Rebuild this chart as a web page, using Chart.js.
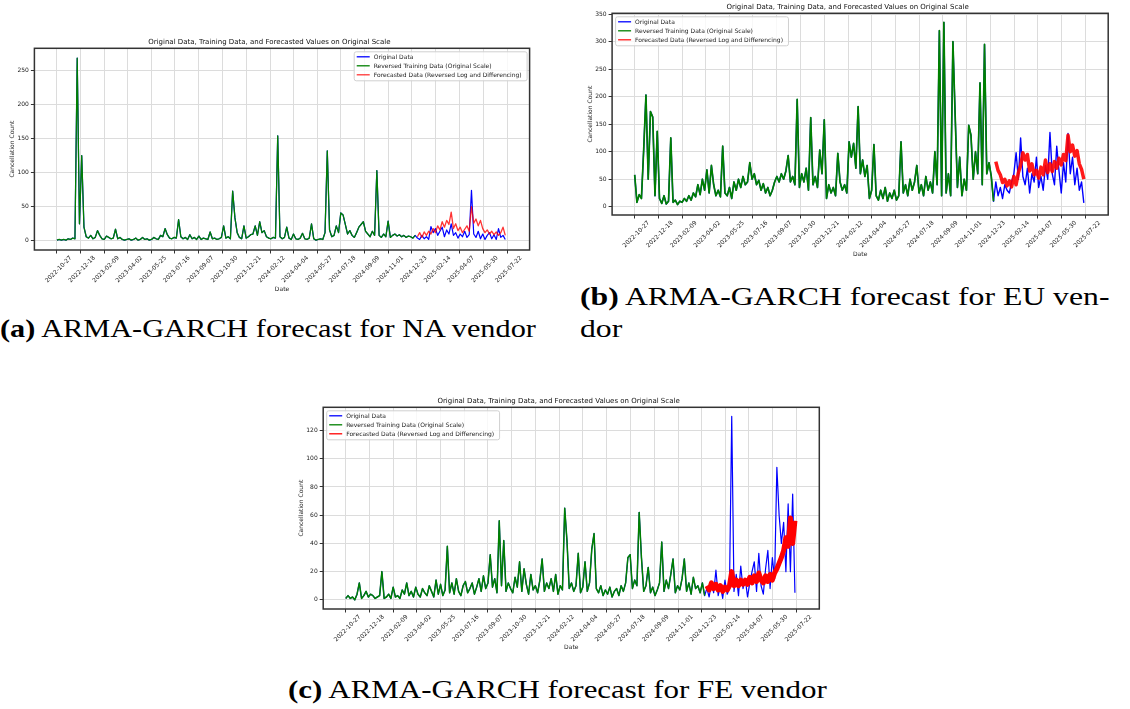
<!DOCTYPE html>
<html>
<head>
<meta charset="utf-8">
<script src="https://cdn.jsdelivr.net/npm/chart.js@4.4.1/dist/chart.umd.min.js"></script>
<style>
  body { margin: 0; width: 1130px; height: 709px; background: #fff; position: relative; overflow: hidden; }
  canvas { position: absolute; }
  .cap { position: absolute; font-family: "Liberation Serif", serif; font-size: 26px; white-space: nowrap; color: #000; line-height: 32px; transform-origin: 0 50%; }
  .cap b { font-weight: bold; }
</style>
</head>
<body>
<canvas id="chartNA" width="545" height="275" style="left:0px;top:30px"></canvas>
<canvas id="chartEU" width="560" height="270" style="left:570px;top:0px"></canvas>
<canvas id="chartFE" width="560" height="270" style="left:280px;top:390px"></canvas>

<div class="cap" style="left:0px;top:313px;transform:scaleX(1.165)"><b>(a)</b> ARMA-GARCH forecast for NA vendor</div>
<div class="cap" style="left:580px;top:281px;transform:scaleX(1.22)"><b>(b)</b> ARMA-GARCH forecast for EU ven-</div>
<div class="cap" style="left:580px;top:313px;transform:scaleX(1.22)">dor</div>
<div class="cap" style="left:288px;top:674px;transform:scaleX(1.19)"><b>(c)</b> ARMA-GARCH forecast for FE vendor</div>

<script>
// dates on the x axis (matplotlib put 20 evenly spaced ticks)
var tickLabels = ['2022-10-27', '2022-12-18', '2023-02-09', '2023-04-02', '2023-05-25',
  '2023-07-16', '2023-09-07', '2023-10-30', '2023-12-21', '2024-02-12', '2024-04-04',
  '2024-05-27', '2024-07-18', '2024-09-09', '2024-11-01', '2024-12-23', '2025-02-14',
  '2025-04-07', '2025-05-30', '2025-07-22'];
var startDate = '2022-10-27';
var stepDays = 5; // values every 5 days

// NA vendor
var naTrain = [
  1, 2, 1, 2, 1, 3, 2, 4, 3, 268, 25, 125, 20, 6, 4, 8, 3, 5, 15, 8,
  3, 2, 7, 5, 3, 4, 17, 3, 5, 2, 1, 2, 3, 1, 2, 4, 1, 2, 5, 2,
  3, 1, 2, 5, 3, 2, 8, 6, 18, 9, 4, 3, 5, 4, 31, 6, 3, 5, 2, 9,
  3, 5, 2, 7, 2, 4, 3, 2, 13, 3, 4, 2, 3, 5, 22, 4, 6, 3, 73, 34,
  12, 5, 3, 22, 4, 6, 9, 10, 22, 8, 28, 12, 15, 6, 4, 3, 5, 4, 154, 6,
  3, 5, 20, 4, 2, 10, 3, 2, 4, 11, 3, 2, 4, 25, 3, 1, 2, 3, 2, 12,
  132, 16, 6, 8, 22, 12, 41, 38, 24, 10, 15, 8, 5, 12, 20, 24, 28, 14, 10, 6,
  14, 8, 103, 8, 5, 10, 6, 29, 5, 8, 10, 7, 9, 6, 8, 5, 7, 6, 4, 8
];
var naTest = [
  4, 2, 8, 3, 6, 2, 21, 12, 18, 8, 14, 20, 6, 16, 10, 25, 8, 12, 4, 10,
  6, 14, 5, 9, 74, 10, 5, 14, 3, 10, 2, 8, 12, 3, 9, 2, 18, 5, 8, 2
];
var naForecast = [
  6, 12, 5, 13, 8, 14, 10, 18, 12, 22, 16, 28, 20, 30, 24, 42, 18, 25, 15, 20,
  12, 17, 22, 14, 50, 26, 32, 22, 30, 18, 12, 16, 10, 14, 9, 13, 8, 12, 20, 8
];

// EU vendor
var euTrain = [
  58, 8, 22, 15, 104, 203, 50, 173, 163, 20, 137, 15, 6, 20, 5, 10, 125, 8, 12, 4,
  10, 8, 15, 10, 20, 12, 25, 18, 40, 22, 50, 30, 67, 25, 75, 40, 20, 30, 18, 110,
  25, 20, 35, 15, 45, 30, 50, 35, 55, 40, 45, 80, 50, 60, 40, 48, 30, 42, 25, 35,
  20, 30, 45, 55, 45, 60, 50, 65, 93, 45, 55, 40, 195, 35, 60, 45, 70, 30, 162, 40,
  55, 35, 103, 60, 158, 15, 40, 25, 35, 20, 97, 45, 30, 40, 25, 118, 90, 115, 70, 182,
  60, 85, 55, 75, 15, 30, 113, 20, 12, 30, 15, 35, 10, 25, 15, 30, 12, 20, 118, 25,
  40, 20, 50, 30, 45, 75, 25, 40, 20, 55, 30, 45, 25, 100, 40, 320, 20, 335, 25, 60,
  20, 300, 165, 35, 90, 20, 50, 30, 148, 130, 50, 100, 60, 225, 40, 295, 60, 80, 55, 10
];
var euTest = [
  45, 20, 35, 15, 40, 30, 25, 45, 60, 98, 50, 125, 55, 40, 70, 25, 60, 45, 90, 35,
  55, 30, 75, 50, 135, 60, 40, 110, 65, 25, 80, 45, 133, 60, 90, 40, 70, 30, 45, 7
];
var euForecast = [
  82, 66, 58, 44, 50, 38, 47, 36, 55, 40, 62, 75, 98, 85, 95, 65, 78, 58, 66, 52,
  72, 58, 85, 62, 78, 64, 82, 70, 88, 76, 95, 84, 130, 100, 112, 92, 102, 78, 68, 50
];

// FE vendor
var feTrain = [
  1, 3, 1, 2, 0, 4, 12, 1, 3, 6, 2, 4, 3, 1, 2, 3, 20, 1, 2, 4,
  1, 9, 2, 3, 1, 7, 4, 12, 3, 6, 2, 9, 4, 2, 8, 5, 3, 10, 6, 2,
  14, 4, 11, 3, 7, 38, 5, 12, 4, 15, 6, 3, 10, 13, 5, 8, 12, 4, 9, 15,
  6, 17, 8, 12, 32, 9, 15, 5, 56, 10, 42, 6, 12, 8, 5, 16, 9, 27, 6, 22,
  11, 4, 18, 7, 10, 5, 14, 29, 6, 12, 8, 15, 6, 18, 4, 10, 7, 65, 42, 8,
  12, 6, 10, 33, 5, 9, 27, 6, 12, 36, 47, 8, 5, 10, 3, 7, 4, 9, 2, 6,
  8, 3, 10, 6, 12, 30, 32, 8, 14, 10, 62, 30, 6, 10, 23, 5, 9, 3, 7, 12,
  41, 6, 14, 8, 18, 29, 5, 10, 7, 15, 29, 6, 12, 4, 16, 8, 10, 5, 12, 3
];
var feTest = [
  8, 2, 12, 5, 21, 3, 10, 1, 14, 4, 8, 130, 6, 18, 3, 24, 8, 15, 2, 12,
  20, 27, 6, 33, 10, 4, 22, 35, 8, 30, 15, 94, 60, 40, 55, 20, 68, 20, 75, 5
];
var feForecast = [
  10, 7, 12, 8, 11, 7, 10, 6, 9, 7, 10, 20, 10, 14, 10, 14, 11, 14, 11, 16,
  12, 17, 13, 19, 14, 12, 17, 13, 18, 14, 19, 22, 26, 30, 35, 44, 38, 58, 40, 56
];

var FONT = '"DejaVu Sans", sans-serif';
var dayOf = function (s) { return Math.round((Date.parse(s) - Date.parse(startDate)) / 86400000); };
var tickDays = tickLabels.map(dayOf);

function points(values, offset) {
  return values.map(function (v, k) { return { x: (offset + k) * stepDays, y: v }; });
}

// matplotlib style box round the axes + legend inside it
var framePlugin = {
  id: 'frame',
  afterDraw: function (chart, args, opts) {
    var ctx = chart.ctx, a = chart.chartArea;
    ctx.save();
    ctx.strokeStyle = '#333';
    ctx.lineWidth = 1.5;
    ctx.strokeRect(a.left, a.top, a.right - a.left, a.bottom - a.top);

    ctx.font = '6px ' + FONT;
    var sets = chart.data.datasets;
    var tw = 0;
    sets.forEach(function (d) { tw = Math.max(tw, ctx.measureText(d.label).width); });
    var w = 21 + tw + 4, h = 29;
    var x = opts.corner === 'right' ? a.right - 3 - w : a.left + 3;
    var y = a.top + 3;
    ctx.beginPath();
    ctx.roundRect(x + 0.5, y + 0.5, w, h, 2);
    ctx.fillStyle = 'rgba(255,255,255,0.8)';
    ctx.fill();
    ctx.strokeStyle = '#d0d0d0';
    ctx.lineWidth = 1;
    ctx.stroke();
    sets.forEach(function (d, k) {
      var ry = y + 5.5 + k * 9;
      ctx.beginPath();
      ctx.moveTo(x + 3, ry);
      ctx.lineTo(x + 16, ry);
      ctx.strokeStyle = d.borderColor;
      ctx.lineWidth = 1.3;
      ctx.stroke();
      ctx.fillStyle = '#222';
      ctx.textBaseline = 'middle';
      ctx.fillText(d.label, x + 20, ry + 0.5);
    });
    ctx.restore();
  }
};

function makeChart(id, g) {
  return new Chart(document.getElementById(id), {
    type: 'line',
    data: {
      datasets: [
        { label: 'Original Data', data: points(g.train.concat(g.test), 0),
          borderColor: '#0000ff', borderWidth: g.wBlue, order: 3 },
        { label: 'Reversed Training Data (Original Scale)', data: points(g.train, 0),
          borderColor: '#008000', borderWidth: g.wGreen, order: 2 },
        { label: 'Forecasted Data (Reversed Log and Differencing)', data: points(g.forecast, g.train.length),
          borderColor: g.red, borderWidth: g.wRed, order: 1 }
      ]
    },
    options: {
      responsive: false,
      animation: false,
      devicePixelRatio: 1,
      elements: {
        point: { radius: 0 },
        line: { tension: 0, borderJoinStyle: 'round', fill: false }
      },
      layout: { padding: { left: g.pl, top: g.pt, right: g.pr, bottom: g.pb } },
      scales: {
        x: {
          type: 'linear', min: -50, max: 1049,
          afterBuildTicks: function (s) { s.ticks = tickDays.map(function (v) { return { value: v }; }); },
          afterFit: function (s) { s.height = g.xH; },
          ticks: {
            autoSkip: false, maxRotation: 45, minRotation: 45, labelOffset: 14, padding: 1,
            font: { family: FONT, size: 6 }, color: '#222',
            callback: function (v, i) { return tickLabels[i]; }
          },
          grid: { color: '#dcdcdc', lineWidth: 1, tickLength: 3.5, tickColor: '#333' },
          border: { display: false },
          title: { display: true, text: 'Date', font: { family: FONT, size: 6 }, color: '#222', padding: 0 }
        },
        y: {
          min: g.yMin, max: g.yMax,
          afterFit: function (s) { s.width = g.yW; },
          ticks: { stepSize: g.yStep, includeBounds: false, padding: 2, font: { family: FONT, size: 6 }, color: '#222' },
          grid: { color: '#dcdcdc', lineWidth: 1, tickLength: 3.5, tickColor: '#333' },
          border: { display: false },
          title: { display: true, text: 'Cancellation Count', font: { family: FONT, size: 6 }, color: '#222', padding: 0 }
        }
      },
      plugins: {
        legend: { display: false },
        tooltip: { enabled: false },
        title: {
          display: true,
          text: 'Original Data, Training Data, and Forecasted Values on Original Scale',
          font: { family: FONT, size: 7, weight: 'normal', lineHeight: 1.2 }, color: '#111',
          padding: { top: 0, bottom: g.tpb }
        },
        frame: { corner: g.corner }
      }
    },
    plugins: [framePlugin]
  });
}

makeChart('chartNA', {
  train: naTrain, test: naTest, forecast: naForecast,
  yMin: -13.45, yMax: 282.45, yStep: 50,
  pl: 9.1, pt: 8.1, pr: 15.4, pb: 12.4, yW: 25.3, xH: 42.6, tpb: 1.8,
  wBlue: 1.2, wGreen: 1.3, wRed: 1.3, red: 'rgba(255,0,0,0.8)', corner: 'right'
});
makeChart('chartEU', {
  train: euTrain, test: euTest, forecast: euForecast,
  yMin: -15, yMax: 351.5, yStep: 50,
  pl: 17.1, pt: 2.5, pr: 21.8, pb: 12.4, yW: 25, xH: 42.6, tpb: 2.4,
  wBlue: 1.4, wGreen: 1.7, wRed: 3.5, red: 'rgba(255,0,0,0.9)', corner: 'left'
});
makeChart('chartFE', {
  train: feTrain, test: feTest, forecast: feForecast,
  yMin: -6.5, yMax: 136.5, yStep: 20,
  pl: 17.8, pt: 6.8, pr: 20.7, pb: 9.1, yW: 25.4, xH: 41.9, tpb: 2.1,
  wBlue: 1.2, wGreen: 1.5, wRed: 5, red: '#ff0000', corner: 'left'
});
</script>
</body>
</html>
